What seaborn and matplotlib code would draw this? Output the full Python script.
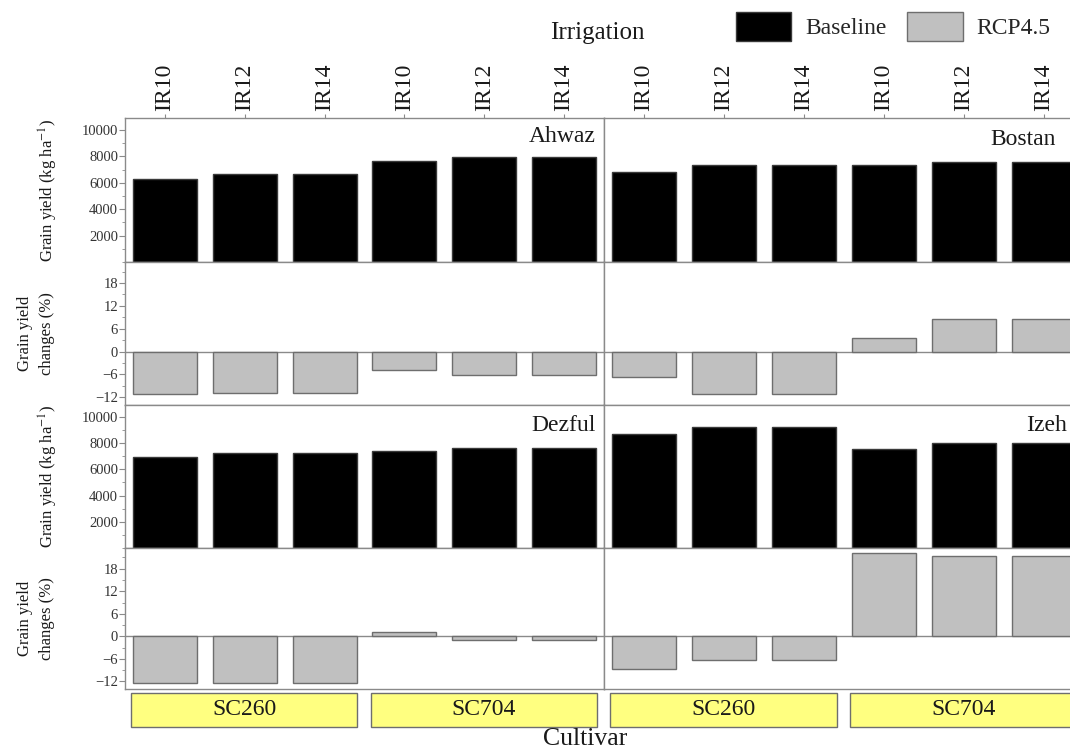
import matplotlib
matplotlib.use("Agg")
import matplotlib.pyplot as plt
import matplotlib.transforms as mtransforms
from matplotlib.patches import Rectangle, Patch
from matplotlib.ticker import MultipleLocator, FixedLocator
import seaborn as sns
import pandas as pd

# ---------------- data ----------------
irrigation = ["IR10", "IR12", "IR14", "IR10", "IR12", "IR14"]
cultivar = ["SC260", "SC260", "SC260", "SC704", "SC704", "SC704"]
cultivar_groups = ["SC260", "SC704"]

yield_ahwaz = [6300, 6650, 6650, 7660, 7960, 7960]
yield_bostan = [6800, 7360, 7360, 7350, 7560, 7560]
yield_dezful = [6900, 7260, 7260, 7410, 7650, 7650]
yield_izeh = [8720, 9200, 9200, 7540, 8000, 8000]

change_ahwaz = [-11.1, -10.9, -10.9, -4.9, -6.1, -6.1]
change_bostan = [-6.6, -11.0, -11.0, 3.6, 8.5, 8.5]
change_dezful = [-12.3, -12.3, -12.3, 1.2, -0.9, -0.9]
change_izeh = [-8.7, -6.3, -6.3, 22.2, 21.3, 21.3]

sites = [["Ahwaz", "Bostan"], ["Dezful", "Izeh"]]
yields = {"Ahwaz": yield_ahwaz, "Bostan": yield_bostan,
          "Dezful": yield_dezful, "Izeh": yield_izeh}
changes = {"Ahwaz": change_ahwaz, "Bostan": change_bostan,
           "Dezful": change_dezful, "Izeh": change_izeh}

# ---------------- style ----------------
sns.set_style("white")
plt.rcParams["font.family"] = ["Liberation Serif", "DejaVu Serif"]
plt.rcParams["mathtext.fontset"] = "stix"

SPINE = "#8a8a8a"
BLACK = "#000000"
GREY = "#c0c0c0"
GREY_EDGE = "#6e6e6e"
YELLOW = "#ffff80"
TXT = "#1a1a1a"

W, H = 1070, 748
fig = plt.figure(figsize=(W / 100, H / 100), dpi=100)

def fx(px):
    return px / W

def fy(px):
    return 1 - px / H

col_left = [125, 604]
col_width = [479, 480]
row_edges = [118, 262, 405, 548, 689]

keys = [f"{c}-{i}" for c, i in zip(cultivar, irrigation)]

axes = {}
for r in range(4):
    for c in range(2):
        x0 = fx(col_left[c])
        w = col_width[c] / W
        y_top, y_bot = row_edges[r], row_edges[r + 1]
        ax = fig.add_axes([x0, fy(y_bot), w, (y_bot - y_top) / H])
        axes[(r, c)] = ax

label_pos = {"Ahwaz": (0.983, 0.87), "Bostan": (0.942, 0.85),
             "Dezful": (0.983, 0.86), "Izeh": (0.965, 0.86)}

for rr in range(2):
    for c in range(2):
        site = sites[rr][c]
        ax_y = axes[(2 * rr, c)]
        ax_c = axes[(2 * rr + 1, c)]
        df = pd.DataFrame({"key": keys, "yield": yields[site], "change": changes[site]})

        sns.barplot(data=df, x="key", y="yield", order=keys, color=BLACK,
                    edgecolor="#3a3a3a", linewidth=1.0, width=0.8, saturation=1,
                    errorbar=None, ax=ax_y)
        sns.barplot(data=df, x="key", y="change", order=keys, color=GREY,
                    edgecolor=GREY_EDGE, linewidth=1.0, width=0.8, saturation=1,
                    errorbar=None, ax=ax_c)

        for ax in (ax_y, ax_c):
            ax.set_xlim(-0.5, 5.5)
            ax.set_xlabel("")
            ax.set_ylabel("")
            for s in ax.spines.values():
                s.set_color(SPINE)
                s.set_linewidth(1.0)
            ax.tick_params(axis="x", which="both", bottom=False, top=False,
                           labelbottom=False, labeltop=False)

        ax_y.set_ylim(0, 10900)
        ax_c.set_ylim(-14, 23.5)
        ax_c.axhline(0, color=SPINE, lw=1.0, zorder=0.5)

        lx, ly = label_pos[site]
        ax_y.text(lx, ly, site, transform=ax_y.transAxes,
                  ha="right", va="center", fontsize=17, color=TXT)

        if c == 0:
            ax_y.yaxis.set_major_locator(FixedLocator([2000, 4000, 6000, 8000, 10000]))
            ax_y.yaxis.set_minor_locator(MultipleLocator(1000))
            ax_c.yaxis.set_major_locator(FixedLocator([-12, -6, 0, 6, 12, 18]))
            ax_c.yaxis.set_minor_locator(MultipleLocator(3))
            for ax in (ax_y, ax_c):
                ax.tick_params(axis="y", which="major", left=True, length=4,
                               width=0.8, color=SPINE, labelsize=10.5,
                               labelcolor="#333333", pad=1)
                ax.tick_params(axis="y", which="minor", left=True, length=2,
                               width=0.6, color=SPINE)
        else:
            for ax in (ax_y, ax_c):
                ax.tick_params(axis="y", which="both", left=False, labelleft=False)

        if rr == 0:
            ax_y.tick_params(axis="x", which="major", top=True, labeltop=True,
                             length=3, width=0.8, color=SPINE, labelsize=17,
                             labelrotation=90, pad=2, labelcolor=TXT)
            ax_y.set_xticks(range(len(keys)))
            ax_y.set_xticklabels(irrigation)

        if rr == 1:
            # cultivar boxes below bottom panels
            trans = mtransforms.blended_transform_factory(ax_c.transData, ax_c.transAxes)
            for g in cultivar_groups:
                idx = [i for i, cv in enumerate(cultivar) if cv == g]
                x_start = idx[0] - 0.42
                x_end = idx[-1] + 0.41
                rect = Rectangle((x_start, -0.27), x_end - x_start, 0.245,
                                 transform=trans, facecolor=YELLOW,
                                 edgecolor="#6e6e6e", lw=1.0, clip_on=False)
                ax_c.add_patch(rect)
                ax_c.text((x_start + x_end) / 2, -0.148, g, transform=trans,
                          ha="center", va="center", fontsize=17, color=TXT)

# axis labels
for rr in range(2):
    yt, yb = row_edges[2 * rr], row_edges[2 * rr + 1]
    fig.text(fx(48), fy((yt + yb) / 2), "Grain yield (kg ha$^{-1}$)",
             rotation=90, ha="center", va="center", fontsize=12, color=TXT)
    yt, yb = row_edges[2 * rr + 1], row_edges[2 * rr + 2]
    fig.text(fx(36), fy((yt + yb) / 2), "Grain yield\nchanges (%)",
             rotation=90, ha="center", va="center", fontsize=12,
             linespacing=1.55, multialignment="center", color=TXT)

fig.text(fx(597), fy(33), "Irrigation", ha="center", va="center",
         fontsize=18, color=TXT)
fig.text(fx(585), fy(739), "Cultivar", ha="center", va="center",
         fontsize=18.5, color=TXT)

handles = [Patch(facecolor=BLACK, edgecolor="#3a3a3a", lw=1.0),
           Patch(facecolor=GREY, edgecolor=GREY_EDGE, lw=1.0)]
fig.legend(handles, ["Baseline", "RCP4.5"], loc="upper left",
           bbox_to_anchor=(fx(736), fy(12)), ncol=2, frameon=False,
           fontsize=17, handlelength=2.35, handleheight=1.5,
           handletextpad=0.6, columnspacing=0.85, borderpad=0,
           borderaxespad=0)

fig.savefig("out.png", dpi=100, facecolor="white")
